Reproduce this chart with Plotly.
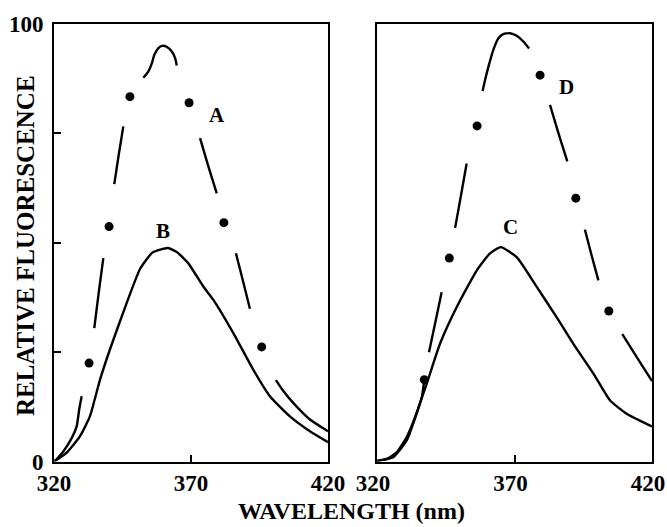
import plotly.graph_objects as go

# ---------------- data (wavelength nm, relative fluorescence) ----------------
# Left panel, curve B (solid)
B_wl = [320, 324.6, 329.5, 333.1, 336.8, 340.4, 346.5, 351.4, 356.0, 361.6, 365.0,
        368.9, 374.5, 378.1, 385.4, 392.7, 398.8, 406.1, 413.4, 420]
B_val = [0, 2.0, 5.8, 10.3, 18.7, 25.6, 36.2, 44.0, 47.8, 48.8, 47.8,
         45.4, 40.0, 37.0, 29.4, 21.0, 14.9, 10.3, 6.9, 4.4]

# Left panel, curve A (broken line segments, None = gap)
A_wl = [320.4, 323.4, 326.5, 328.3, 329.2, 330.1, None,
        334.7, 336.3, 338.0, None,
        342.0, 343.6, 345.3, None,
        352.6, 354.4, 355.7, 356.6, 358.1, 359.5, 361.1, 363.0, 364.2, 364.8, None,
        373.3, 376.3, 379.4, None,
        386.4, 389.0, 391.5, None,
        401.0, 403.7, 407.3, 413.4, 419.5, 420]
A_val = [0.1, 2.3, 5.4, 8.1, 11.9, 14.9, None,
         30.5, 38.5, 46.5, None,
         63.4, 70.0, 76.6, None,
         87.7, 89.1, 91.0, 92.9, 94.5, 95.0, 94.8, 93.7, 92.2, 90.5, None,
         73.9, 67.5, 61.3, None,
         47.6, 41.2, 34.9, None,
         18.6, 16.1, 13.4, 9.6, 7.1, 6.9]
A_dot_wl = [332.8, 340.1, 347.7, 369.3, 382.0, 395.8]
A_dot_val = [22.5, 53.7, 83.4, 82.0, 54.6, 26.2]

# Right panel, curve C (solid)
C_wl = [320, 321.1, 325.9, 330.8, 334.4, 335.6, 338.1, 342.9, 349.0, 356.3, 361.0, 365.0,
        370.8, 378.1, 385.3, 391.4, 398.7, 404.7, 410.8, 419.3, 420]
C_val = [0, 0.2, 1.0, 4.8, 10.9, 13.3, 17.8, 26.9, 35.3, 43.7, 47.5, 49.0,
         46.7, 39.9, 33.0, 26.9, 20.1, 14.0, 10.9, 8.2, 8.0]

# Right panel, curve D (broken line segments, None = gap)
D_wl = [320, 323.5, 327.2, 330.8, 333.8, 336.3, 337.2, None,
        338.9, 341.2, 343.5, None,
        348.4, 350.5, 352.6, None,
        358.4, 359.3, 360.5, 362.3, 364.1, 365.9, 368.4, 370.8, 373.2, 375.3, None,
        382.9, 386.0, 389.2, None,
        395.6, 398.0, 400.5, None,
        409.2, 414.4, 419.5, 420]
D_val = [0.2, 0.6, 2.1, 5.6, 10.1, 14.7, 18.7, None,
         25.0, 31.8, 38.7, None,
         53.4, 60.7, 68.1, None,
         84.7, 87.2, 90.2, 94.1, 96.7, 97.7, 97.9, 97.3, 96.0, 94.4, None,
         81.5, 75.0, 68.6, None,
         53.0, 47.2, 41.4, None,
         29.1, 23.9, 18.9, 18.4]
D_dot_wl = [337.2, 346.3, 356.4, 379.3, 392.3, 404.3]
D_dot_val = [18.7, 46.5, 76.7, 88.3, 60.2, 34.4]

# curve labels: (text, wavelength, value, panel)
labels = [("A", 379.4, 79.2, 1), ("B", 359.9, 52.6, 1),
          ("C", 368.4, 53.6, 2), ("D", 389.0, 85.7, 2)]

x_ticks = [320, 370, 420]
x_ticktext = ["320", "370", "420"]
y_ticks = [0, 25, 50, 75, 100]
y_ticktext = ["0", "", "", "", "100"]

# ---------------- figure ----------------
FONT = "Liberation Serif"
W, H = 667, 527
fig = go.Figure()

line = dict(color="black", width=2.4, shape="spline", smoothing=0.5)
fig.add_trace(go.Scatter(x=B_wl, y=B_val, mode="lines", line=line,
                         xaxis="x", yaxis="y", showlegend=False))
fig.add_trace(go.Scatter(x=A_wl, y=A_val, mode="lines", line=line,
                         connectgaps=False, xaxis="x", yaxis="y", showlegend=False))
fig.add_trace(go.Scatter(x=A_dot_wl, y=A_dot_val, mode="markers",
                         marker=dict(color="black", size=9), xaxis="x", yaxis="y", showlegend=False))
fig.add_trace(go.Scatter(x=C_wl, y=C_val, mode="lines", line=line,
                         xaxis="x2", yaxis="y2", showlegend=False))
fig.add_trace(go.Scatter(x=D_wl, y=D_val, mode="lines", line=line,
                         connectgaps=False, xaxis="x2", yaxis="y2", showlegend=False))
fig.add_trace(go.Scatter(x=D_dot_wl, y=D_dot_val, mode="markers",
                         marker=dict(color="black", size=9), xaxis="x2", yaxis="y2", showlegend=False))

ydom = [(H - 461.5) / H, (H - 24) / H]
tickfont = dict(family=FONT, size=23, color="black", weight="bold")
common_x = dict(range=[320, 420], showline=True, mirror=True, linecolor="black", linewidth=2,
                showgrid=False, zeroline=False, ticks="inside", ticklen=7, tickwidth=2,
                tickcolor="black", tickvals=x_ticks, ticktext=x_ticktext, tickfont=tickfont,
                ticklabelstandoff=0, ticklabeloverflow="allow", automargin=False)
fig.update_layout(
    width=W, height=H, autosize=False,
    margin=dict(l=0, r=0, t=0, b=0, pad=0),
    paper_bgcolor="white", plot_bgcolor="white",
    xaxis=dict(common_x, domain=[54 / W, 328 / W], anchor="y"),
    xaxis2=dict(common_x, domain=[377 / W, 652 / W], anchor="y2", ticklabelshift=-4),
    yaxis=dict(range=[0, 100], domain=ydom, anchor="x", showline=True, mirror=True,
               linecolor="black", linewidth=2, showgrid=False, zeroline=False,
               ticks="inside", ticklen=7, tickwidth=2, tickcolor="black",
               tickvals=y_ticks, ticktext=y_ticktext, tickfont=tickfont, ticklabelstandoff=4,
               ticklabeloverflow="allow", automargin=False),
    yaxis2=dict(range=[0, 100], domain=ydom, anchor="x2", showline=True, mirror=True,
                linecolor="black", linewidth=2, showgrid=False, zeroline=False,
                ticks="", showticklabels=False, automargin=False),
)

for txt, xv, yv, p in labels:
    fig.add_annotation(x=xv, y=yv, xref="x" if p == 1 else "x2", yref="y" if p == 1 else "y2",
                       text=txt, showarrow=False,
                       font=dict(family=FONT, size=21, color="black", weight="bold"))

fig.add_annotation(x=351 / W, y=(H - 511) / H, xref="paper", yref="paper",
                   xanchor="center", yanchor="middle",
                   text="WAVELENGTH (nm)", showarrow=False,
                   font=dict(family=FONT, size=24, color="black", weight="bold"))
fig.add_annotation(x=25 / W, y=(H - 246) / H, xref="paper", yref="paper",
                   xanchor="center", yanchor="middle",
                   text="RELATIVE FLUORESCENCE", textangle=-90, showarrow=False,
                   font=dict(family=FONT, size=25, color="black", weight="bold"))

fig.write_html("out.html")
